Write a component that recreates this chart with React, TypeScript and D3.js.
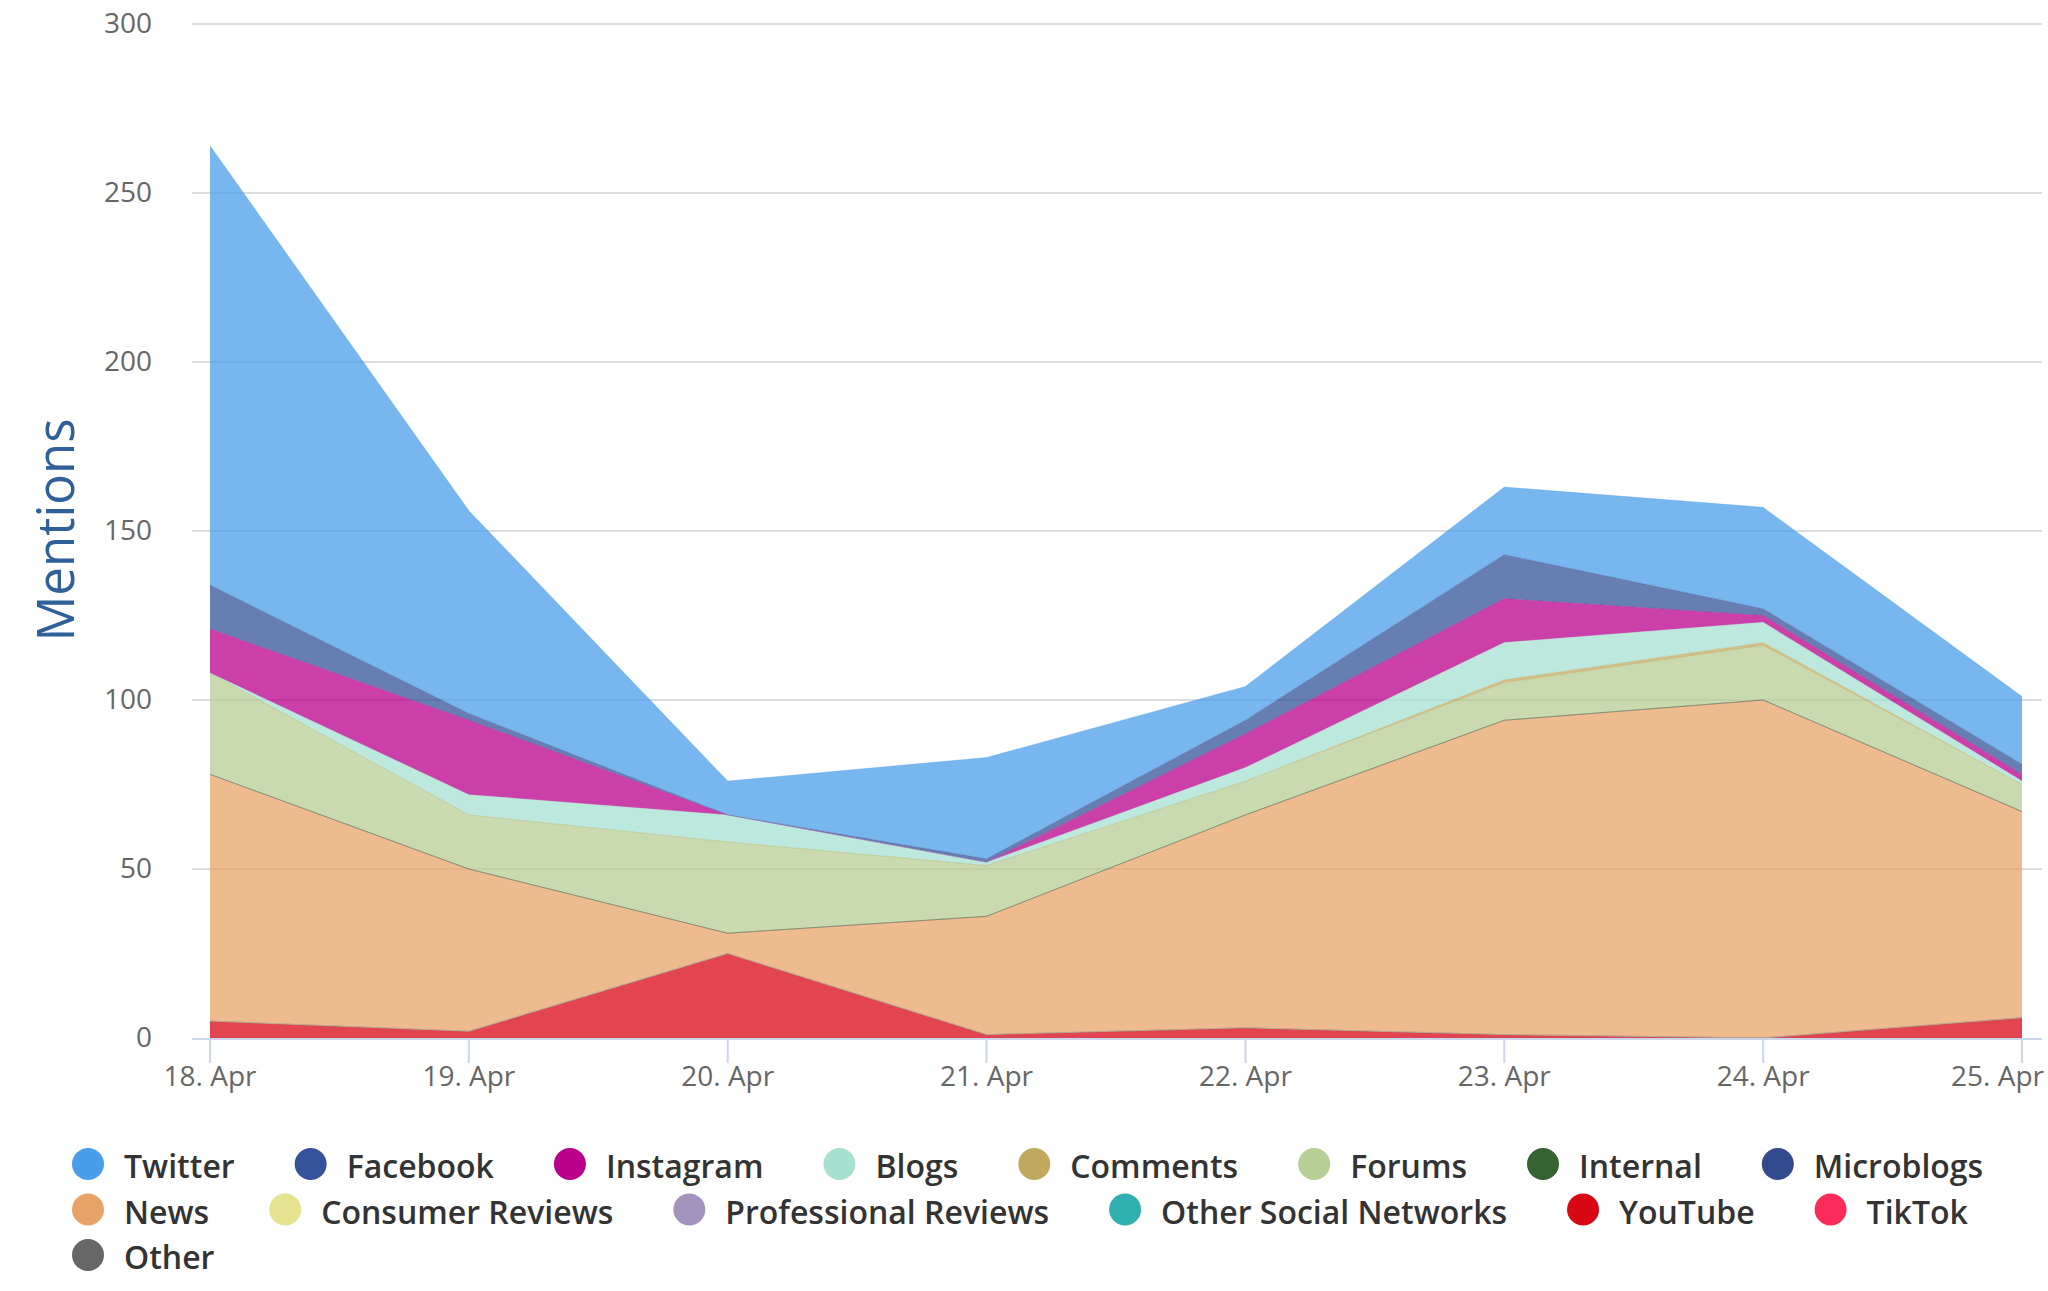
import React, { useEffect, useRef } from 'react';
import * as d3 from 'd3';

// ---- data ----
const dates = ['18. Apr', '19. Apr', '20. Apr', '21. Apr', '22. Apr', '23. Apr', '24. Apr', '25. Apr'];
const yTicks = [0, 50, 100, 150, 200, 250, 300];

const twitter = [130, 60, 10, 30, 10, 20, 30, 20];
const facebook = [13, 2, 0, 1, 4, 13, 2, 3];
const instagram = [13, 22, 0, 0, 10, 13, 2, 2];
const blogs = [0, 6, 8, 1, 4, 11, 6, 1];
const comments = [0, 0, 0, 0, 0, 1, 1, 0];
const forums = [30, 16, 27, 15, 10, 11, 16, 8];
const internal = [0, 0, 0, 0, 0, 0, 0, 0];
const microblogs = [0, 0, 0, 0, 0, 0, 0, 0];
const news = [73, 48, 6, 35, 63, 93, 100, 61];
const consumerReviews = [0, 0, 0, 0, 0, 0, 0, 0];
const professionalReviews = [0, 0, 0, 0, 0, 0, 0, 0];
const otherSocial = [0, 0, 0, 0, 0, 0, 0, 0];
const youtube = [5, 2, 25, 1, 3, 1, 0, 6];
const tiktok = [0, 0, 0, 0, 0, 0, 0, 0];
const other = [0, 0, 0, 0, 0, 0, 0, 0];

const seriesNames = [
  'Twitter', 'Facebook', 'Instagram', 'Blogs', 'Comments', 'Forums', 'Internal', 'Microblogs',
  'News', 'Consumer Reviews', 'Professional Reviews', 'Other Social Networks', 'YouTube', 'TikTok', 'Other',
];
const seriesValues = [
  twitter, facebook, instagram, blogs, comments, forums, internal, microblogs,
  news, consumerReviews, professionalReviews, otherSocial, youtube, tiktok, other,
];
const seriesColors = [
  '#4A9DE8', '#34539A', '#BA008B', '#A5E0D1', '#BFA95F', '#B7CE96', '#366331', '#334A8E',
  '#E8A468', '#E5E290', '#A394BD', '#2FB0AE', '#D80714', '#FC2C5A', '#676767',
];

export default function App() {
  const ref = useRef<SVGSVGElement>(null);

  useEffect(() => {
    const svg = d3.select(ref.current);
    svg.selectAll('*').remove();
    const font = "'Open Sans', 'Noto Sans', sans-serif";

    const x = d3.scaleLinear().domain([0, dates.length - 1]).range([210, 2022]);
    const y = d3.scaleLinear().domain([0, 300]).range([1038, 24]);
    const gridX0 = 192;
    const gridX1 = 2042;

    // grid lines
    svg.append('g')
      .selectAll('line')
      .data(yTicks.filter((t) => t > 0))
      .join('line')
      .attr('x1', gridX0)
      .attr('x2', gridX1)
      .attr('y1', (d) => y(d))
      .attr('y2', (d) => y(d))
      .attr('stroke', '#dcdcdc')
      .attr('stroke-width', 2);

    // stacked areas (first legend series on top)
    const keys = [...seriesNames].reverse();
    const table = dates.map((_, i) => {
      const row: any = { i };
      seriesNames.forEach((n, k) => { row[n] = seriesValues[k][i]; });
      return row;
    });
    const stacked = d3.stack<any>().keys(keys)(table);
    const area = d3.area<any>()
      .x((d) => x(d.data.i))
      .y0((d) => y(d[0]))
      .y1((d) => y(d[1]));
    const line = d3.line<any>()
      .x((d) => x(d.data.i))
      .y((d) => y(d[1]));
    const colorOf = (name: string) => seriesColors[seriesNames.indexOf(name)];

    const gA = svg.append('g');
    gA.selectAll('path.area')
      .data(stacked)
      .join('path')
      .attr('class', 'area')
      .attr('d', (s) => area(s) as string)
      .attr('fill', (s) => colorOf(s.key))
      .attr('fill-opacity', 0.75);
    gA.selectAll('path.line')
      .data(stacked)
      .join('path')
      .attr('class', 'line')
      .attr('d', (s) => line(s) as string)
      .attr('fill', 'none')
      .attr('stroke', (s) => colorOf(s.key))
      .attr('stroke-opacity', 0.3)
      .attr('stroke-width', 1);

    // x axis line and ticks
    svg.append('line')
      .attr('x1', gridX0).attr('x2', gridX1)
      .attr('y1', y(0) + 1).attr('y2', y(0) + 1)
      .attr('stroke', '#ccd6eb').attr('stroke-width', 2);
    svg.append('g')
      .selectAll('line')
      .data(dates.map((_, i) => i))
      .join('line')
      .attr('x1', (d) => x(d)).attr('x2', (d) => x(d))
      .attr('y1', y(0)).attr('y2', y(0) + 25)
      .attr('stroke', '#ccd6eb').attr('stroke-width', 2);

    // x labels
    const xl = svg.append('g')
      .selectAll('text')
      .data(dates)
      .join('text')
      .attr('x', (_, i) => x(i))
      .attr('y', 1086)
      .attr('text-anchor', 'middle')
      .attr('font-family', font)
      .attr('font-size', 28)
      .attr('fill', '#666666')
      .text((d) => d);
    xl.each(function (_, i) {
      const el = this as SVGTextElement;
      const w = el.getComputedTextLength();
      if (x(i) + w / 2 > 2044) {
        d3.select(el).attr('text-anchor', 'end').attr('x', 2044);
      }
    });

    // y labels
    svg.append('g')
      .selectAll('text')
      .data(yTicks)
      .join('text')
      .attr('x', 152)
      .attr('y', (d) => y(d) + 9)
      .attr('text-anchor', 'end')
      .attr('font-family', font)
      .attr('font-size', 28)
      .attr('fill', '#666666')
      .text((d) => String(d));

    // y title
    svg.append('text')
      .attr('transform', 'translate(74,530) rotate(-90)')
      .attr('text-anchor', 'middle')
      .attr('font-family', font)
      .attr('font-size', 51)
      .attr('fill', '#2f6099')
      .text('Mentions');

    // legend
    const lg = svg.append('g');
    const startX = 72;
    const maxX = 2010;
    const rowH = 45.5;
    let cx = startX;
    let row = 0;
    seriesNames.forEach((name, k) => {
      const g = lg.append('g');
      const t = g.append('text')
        .attr('font-family', font)
        .attr('font-size', 32)
        .attr('font-weight', 600)
        .attr('fill', '#333333')
        .text(name);
      const w = (t.node() as SVGTextElement).getComputedTextLength();
      const itemW = 52 + w;
      if (cx + itemW > maxX && cx > startX) {
        row += 1;
        cx = startX;
      }
      const cy = 1164 + row * rowH;
      g.append('circle')
        .attr('cx', cx + 16)
        .attr('cy', cy)
        .attr('r', 16)
        .attr('fill', seriesColors[k]);
      t.attr('x', cx + 52).attr('y', cy + 14);
      cx += itemW + 60;
    });
  }, []);

  return (
    <svg
      ref={ref}
      width={2048}
      height={1291}
      style={{ position: 'absolute', left: 0, top: 0, display: 'block', background: '#ffffff' }}
    />
  );
}
